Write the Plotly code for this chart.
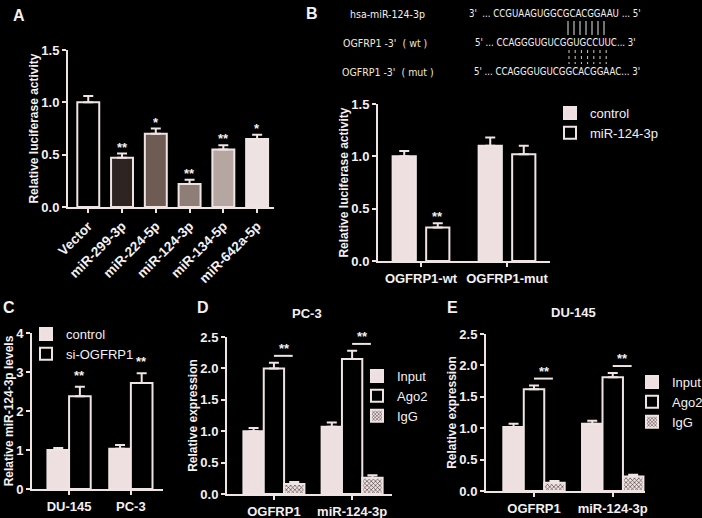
import plotly.graph_objects as go

# ---------------- data ----------------
A_categories = ["Vector", "miR-299-3p", "miR-224-5p", "miR-124-3p", "miR-134-5p", "miR-642a-5p"]
A_values = [1.00, 0.47, 0.70, 0.22, 0.55, 0.65]
A_errors = [0.06, 0.04, 0.05, 0.04, 0.04, 0.04]
A_sig = ["", "**", "*", "**", "**", "*"]
A_colors = ["#000000", "#2e2523", "#6d5b54", "#8f7d78", "#b5a6a2", "#eee2e2"]

B_categories = ["OGFRP1-wt", "OGFRP1-mut"]
B_control = [1.00, 1.10]
B_control_err = [0.05, 0.08]
B_mir = [0.32, 1.02]
B_mir_err = [0.04, 0.08]
B_sig = ["**", ""]

C_categories = ["DU-145", "PC-3"]
C_control = [1.00, 1.03]
C_control_err = [0.05, 0.10]
C_si = [2.38, 2.72]
C_si_err = [0.24, 0.25]
C_sig = ["**", "**"]

D_categories = ["OGFRP1", "miR-124-3p"]
D_input = [1.00, 1.07]
D_input_err = [0.05, 0.07]
D_ago2 = [2.00, 2.15]
D_ago2_err = [0.09, 0.13]
D_igg = [0.16, 0.26]
D_igg_err = [0.03, 0.04]

E_categories = ["OGFRP1", "miR-124-3p"]
E_input = [1.02, 1.07]
E_input_err = [0.05, 0.05]
E_ago2 = [1.62, 1.81]
E_ago2_err = [0.06, 0.07]
E_igg = [0.13, 0.23]
E_igg_err = [0.03, 0.03]

seq_labels = ["hsa-miR-124-3p", "OGFRP1 -3'  ( wt )", "OGFRP1 -3'  ( mut )"]
seq_texts = ["3'  ... CCGUAAGUGGCGCACGGAAU ... 5'",
             "5' ... CCAGGGUGUCGGUGCCUUC... 3'",
             "5' ... CCAGGGUGUCGGCACGGAAC... 3'"]

# ---------------- style ----------------
W, H = 702, 518
BG = "#000000"
LINE = "#efe3e3"
TXT = "#f4f0f0"
FILL = "#eee0e0"
FONT = "Liberation Sans, Arial, sans-serif"
NARROW = "Liberation Sans Narrow, DejaVu Sans Condensed, sans-serif"

def px(x):
    return x / W

def py(y):
    return 1 - y / H

fig = go.Figure()

def err(arr):
    return dict(type="data", array=arr, arrayminus=[0] * len(arr), symmetric=False,
                color=LINE, thickness=2, width=5)

def bar(x, y, e, ax, name=None, color=FILL, offset=None, width=None, legend=None,
        pattern=None, showlegend=False):
    t = go.Bar(x=x, y=y, error_y=err(e), xaxis="x" + ax, yaxis="y" + ax,
               marker=dict(color=color, line=dict(color=LINE, width=2)),
               name=name, showlegend=showlegend, width=width, offset=offset)
    if legend:
        t.legend = legend
    if pattern:
        t.marker.pattern = pattern
    fig.add_trace(t)

# Panel A
fig.add_trace(go.Bar(x=A_categories, y=A_values, error_y=err(A_errors),
                     marker=dict(color=A_colors, line=dict(color=LINE, width=2)),
                     width=0.65, showlegend=False, xaxis="x", yaxis="y"))

# Panel B
bw = 0.27
bar(B_categories, B_control, B_control_err, "2", "control", FILL, -0.33, bw, "legend", showlegend=True)
bar(B_categories, B_mir, B_mir_err, "2", "miR-124-3p", BG, 0.06, bw, "legend", showlegend=True)

# Panel C
cw = 0.35
bar(C_categories, C_control, C_control_err, "3", "control", FILL, -0.35, cw, "legend2", showlegend=True)
bar(C_categories, C_si, C_si_err, "3", "si-OGFRP1", BG, 0.0, cw, "legend2", showlegend=True)

# Panels D, E
dw = 0.26
offs = [-0.39, -0.13, 0.13]
igg_pattern = dict(shape="x", fgcolor="#3a3030", bgcolor=FILL, size=3, solidity=0.35)
for ax, leg, cats, ser in [("4", "legend3", D_categories,
                            [(D_input, D_input_err), (D_ago2, D_ago2_err), (D_igg, D_igg_err)]),
                           ("5", "legend4", E_categories,
                            [(E_input, E_input_err), (E_ago2, E_ago2_err), (E_igg, E_igg_err)])]:
    bar(cats, ser[0][0], ser[0][1], ax, "Input", FILL, offs[0], dw, leg, showlegend=True)
    bar(cats, ser[1][0], ser[1][1], ax, "Ago2", BG, offs[1], dw, leg, showlegend=True)
    bar(cats, ser[2][0], ser[2][1], ax, "IgG", FILL, offs[2], dw, leg, pattern=igg_pattern,
        showlegend=True)

# ---------------- axes ----------------
def xax(dom, rng, cats, anchor, angle=0, size=13):
    return dict(domain=dom, range=rng, type="category", categoryorder="array", categoryarray=cats,
                showline=True, linecolor=LINE, linewidth=2, ticks="outside", ticklen=4,
                tickwidth=2, tickcolor=LINE, showgrid=False, zeroline=False, tickangle=angle,
                anchor=anchor, automargin=False,
                tickfont=dict(family=FONT, size=size, color=TXT, weight="bold"), fixedrange=True)

def yax(dom, rng, dtick, title, anchor):
    return dict(domain=dom, range=rng, dtick=dtick, tick0=0, tickformat=".1f" if dtick < 1 else "d",
                showline=True, linecolor=LINE, linewidth=2, ticks="outside", ticklen=4,
                tickwidth=2, tickcolor=LINE, showgrid=False, zeroline=False, anchor=anchor,
                automargin=False, fixedrange=True,
                tickfont=dict(family=FONT, size=13, color=TXT, weight="bold"),
                title=dict(text=title, font=dict(family=FONT, size=12, color=TXT, weight="bold"),
                           standoff=0))

layout = dict(
    template="none",
    width=W, height=H, paper_bgcolor=BG, plot_bgcolor=BG, barmode="overlay",
    margin=dict(l=0, r=0, t=0, b=0, autoexpand=False), font=dict(family=FONT, color=TXT, size=13),
    xaxis=xax([px(68), px(274)], [-0.6, 5.5], A_categories, "y", -45, 13.5),
    yaxis=yax([py(207), py(50)], [0, 1.5], 0.5, "Relative luciferase activity", "x"),
    xaxis2=xax([px(378), px(550)], [-0.5, 1.5], B_categories, "y2"),
    yaxis2=yax([py(261), py(104)], [0, 1.5], 0.5, "Relative luciferase activity", "x2"),
    xaxis3=xax([px(32), px(163)], [-0.6, 1.52], C_categories, "y3"),
    yaxis3=yax([py(489), py(333)], [0, 4], 1, "Relative miR-124-3p levels", "x3"),
    xaxis4=xax([px(227), px(392)], [-0.6, 1.51], D_categories, "y4"),
    yaxis4=yax([py(494), py(337)], [0, 2.5], 0.5, "Relative expression", "x4"),
    xaxis5=xax([px(486), px(645)], [-0.61, 1.41], E_categories, "y5"),
    yaxis5=yax([py(491), py(334)], [0, 2.5], 0.5, "Relative expression", "x5"),
)

def leg(x, y):
    return dict(x=px(x), y=py(y), xanchor="left", yanchor="top", bgcolor="rgba(0,0,0,0)",
                font=dict(family=FONT, size=13, color=TXT), tracegroupgap=0,
                itemclick=False, itemdoubleclick=False)

layout["legend"] = leg(550, 98)
layout["legend2"] = leg(26, 319)
layout["legend3"] = leg(357, 361)
layout["legend4"] = leg(632, 367)
fig.update_layout(**layout)

# ---------------- annotations ----------------
ann = []
shapes = []

def star(text, x, y, ax, yshift=0):
    ann.append(dict(text=text, x=x, y=y, xref="x" + ax if ax else "x", yref="y" + ax if ax else "y",
                    showarrow=False, xanchor="center", yanchor="bottom", yshift=yshift,
                    font=dict(family=FONT, size=13, color=TXT, weight="bold")))

for i, s in enumerate(A_sig):
    if s:
        star(s, i, A_values[i] + A_errors[i], "", -3)
for i, s in enumerate(B_sig):
    if s:
        star(s, i + 0.06 + bw / 2, B_mir[i] + B_mir_err[i], "2", -3)
for i, s in enumerate(C_sig):
    if s:
        star(s, i + cw / 2, C_si[i] + C_si_err[i], "3", 2)

for ax, ago, ago_e in [("4", D_ago2, D_ago2_err), ("5", E_ago2, E_ago2_err)]:
    for i in range(2):
        ytop = ago[i] + ago_e[i] + 0.11
        x0 = i + offs[1] + dw / 2
        x1 = i + offs[2] + dw / 2
        shapes.append(dict(type="line", xref="x" + ax, yref="y" + ax, x0=x0, x1=x1 - 0.02,
                           y0=ytop, y1=ytop, line=dict(color=LINE, width=2)))
        star("**", (x0 + x1) / 2, ytop, ax, -2)

def label(text, x, y, size=13, family=FONT, color=TXT, xanchor="center"):
    ann.append(dict(text=text, x=px(x), y=py(y), xref="paper", yref="paper",
                    xanchor=xanchor, yanchor="middle", showarrow=False,
                    font=dict(family=family, size=size, color=color)))

# panel letters
for t, x, y in [("A", 19, 15), ("B", 312, 14), ("C", 9, 307), ("D", 203, 307), ("E", 452, 307)]:
    label("<b>%s</b>" % t, x, y, 16)

# panel titles
label("<b>PC-3</b>", 307, 313)
label("<b>DU-145</b>", 573, 312)

# sequence block
lab_colors = ["#f4f0f0", "#f2ead2", "#f2ead2"]
lab_x = [348, 341, 340]
row_y = [14, 43, 72]
seq_x = [467, 473, 472]
for i in range(3):
    label(seq_labels[i], lab_x[i], row_y[i], 10.5, NARROW, lab_colors[i], "left")
    label(seq_texts[i], seq_x[i], row_y[i], 9.6, NARROW, TXT, "left")

for k in range(7):
    xa = 568 + k * 6
    shapes.append(dict(type="line", xref="paper", yref="paper", x0=px(xa), x1=px(xa),
                       y0=py(21), y1=py(35), line=dict(color="#e8e4e4", width=1)))
    xb = 569 + k * 6.2
    shapes.append(dict(type="line", xref="paper", yref="paper", x0=px(xb), x1=px(xb),
                       y0=py(50), y1=py(64), line=dict(color="#d8cfa8", width=1, dash="dot")))

fig.update_layout(annotations=ann, shapes=shapes)
fig.write_html("out.html", config={"displayModeBar": False},
               post_script="document.body.style.margin='0px';")
